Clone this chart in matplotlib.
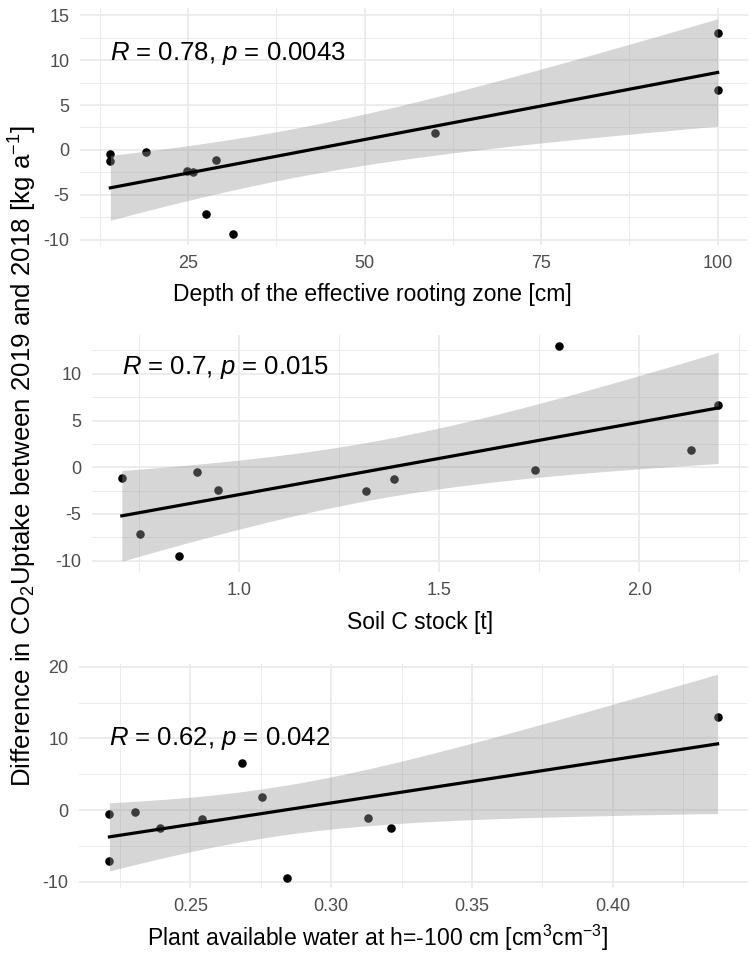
import numpy as np
import matplotlib
matplotlib.use("Agg")
import matplotlib.pyplot as plt

plt.rcParams['font.family'] = ['Liberation Sans', 'DejaVu Sans']
plt.rcParams['mathtext.fontset'] = 'custom'
plt.rcParams['mathtext.rm'] = 'Liberation Sans'
plt.rcParams['mathtext.it'] = 'Liberation Sans:italic'
plt.rcParams['axes.unicode_minus'] = False

# values (difference in CO2 uptake, kg/a)
depth_x = [14, 14, 19, 24.8, 25.7, 28.9, 27.5, 31.3, 60, 100, 100]
depth_y = [-0.45, -1.25, -0.2, -2.4, -2.45, -1.15, -7.2, -9.4, 1.85, 13.0, 6.65]
soilc_x = [0.706, 0.752, 0.85, 0.895, 0.9475, 1.3175, 1.3875, 1.739, 1.80, 2.128, 2.197]
soilc_y = [-1.2, -7.15, -9.45, -0.5, -2.45, -2.55, -1.25, -0.25, 13.0, 1.8, 6.65]
paw_x = [0.2212, 0.2212, 0.2303, 0.2393, 0.2542, 0.2684, 0.2754, 0.2843, 0.313, 0.3213, 0.4373]
paw_y = [-0.5, -7.1, -0.25, -2.45, -1.2, 6.6, 1.85, -9.45, -1.15, -2.45, 13.0]

cor_labels = [r"$R$ = 0.78, $p$ = 0.0043", r"$R$ = 0.7, $p$ = 0.015", r"$R$ = 0.62, $p$ = 0.042"]
x_titles = ["Depth of the effective rooting zone [cm]", "Soil C stock [t]",
            r"Plant available water at h=-100 cm [cm$^3$cm$^{-3}$]"]
x_ticks = [[25, 50, 75, 100], [1.0, 1.5, 2.0], [0.25, 0.30, 0.35, 0.40]]
x_ticklabels = [["25", "50", "75", "100"], ["1.0", "1.5", "2.0"], ["0.25", "0.30", "0.35", "0.40"]]
y_ticks = [[-10, -5, 0, 5, 10, 15], [-10, -5, 0, 5, 10], [-10, 0, 10, 20]]
y_label = r"Difference in CO$_2$Uptake between 2019 and 2018 [kg a$^{-1}$]"

T975 = 2.262157  # t quantile, df = 9

W, H = 749, 966
fig = plt.figure(figsize=(W / 100, H / 100), dpi=100)

def px_axes(left, top, right, bottom):
    return fig.add_axes([left / W, 1 - bottom / H, (right - left) / W, (bottom - top) / H])

def lm_band(x, y):
    x = np.asarray(x, float)
    y = np.asarray(y, float)
    n = len(x)
    b, a = np.polyfit(x, y, 1)
    res = y - (a + b * x)
    s = np.sqrt(np.sum(res ** 2) / (n - 2))
    xs = np.linspace(x.min(), x.max(), 80)
    fit = a + b * xs
    se = s * np.sqrt(1.0 / n + (xs - x.mean()) ** 2 / np.sum((x - x.mean()) ** 2))
    return xs, fit, fit - T975 * se, fit + T975 * se

panels = [
    (depth_x, depth_y, (80, 8, 748, 245), 10.7, 372, 294),
    (soilc_x, soilc_y, (92, 335, 748, 572), 10.7, 420, 623),
    (paw_x, paw_y, (79, 664, 748, 888), 10.0, 377, 938),
]

for i, (xv, yv, box, ann_y, tx, ty) in enumerate(panels):
    ax = px_axes(*box)
    ax.scatter(xv, yv, s=38, color='black', linewidths=0, zorder=2)
    xs, fit, lo, hi = lm_band(xv, yv)
    ax.fill_between(xs, lo, hi, color='#999999', alpha=0.4, linewidth=0, zorder=3)
    ax.plot(xs, fit, color='black', lw=2.3, zorder=4)
    ax.margins(0.05)
    ax.autoscale_view()
    xl = ax.get_xlim()
    yl = ax.get_ylim()

    ax.set_xticks(x_ticks[i])
    ax.set_xticklabels(x_ticklabels[i])
    ax.set_yticks(y_ticks[i])
    xt = x_ticks[i]
    xstep = xt[1] - xt[0]
    yt = y_ticks[i]
    ystep = yt[1] - yt[0]
    ax.set_xticks(np.arange(xt[0] - xstep / 2, xt[-1] + xstep, xstep), minor=True)
    ax.set_yticks(np.arange(yt[0] - ystep / 2, yt[-1] + ystep, ystep), minor=True)
    ax.grid(which='major', color='#EBEBEB', lw=1.3, zorder=0)
    ax.grid(which='minor', color='#EBEBEB', lw=0.7, zorder=0)
    ax.set_xlim(xl)
    ax.set_ylim(yl)
    ax.set_axisbelow(True)
    for sp in ax.spines.values():
        sp.set_visible(False)
    ax.tick_params(which='both', length=0, labelsize=13, labelcolor='#4D4D4D', pad=7.5)

    ax.text(min(xv), ann_y, cor_labels[i], fontsize=18.5, ha='left', va='center', zorder=5)
    fig.text(tx / W, 1 - ty / H, x_titles[i], fontsize=16.5, ha='center', va='center')

fig.text(23 / W, 1 - 456 / H, y_label, fontsize=18.6, rotation=90, ha='center', va='center')

fig.savefig('out.png', dpi=100, facecolor='white')
